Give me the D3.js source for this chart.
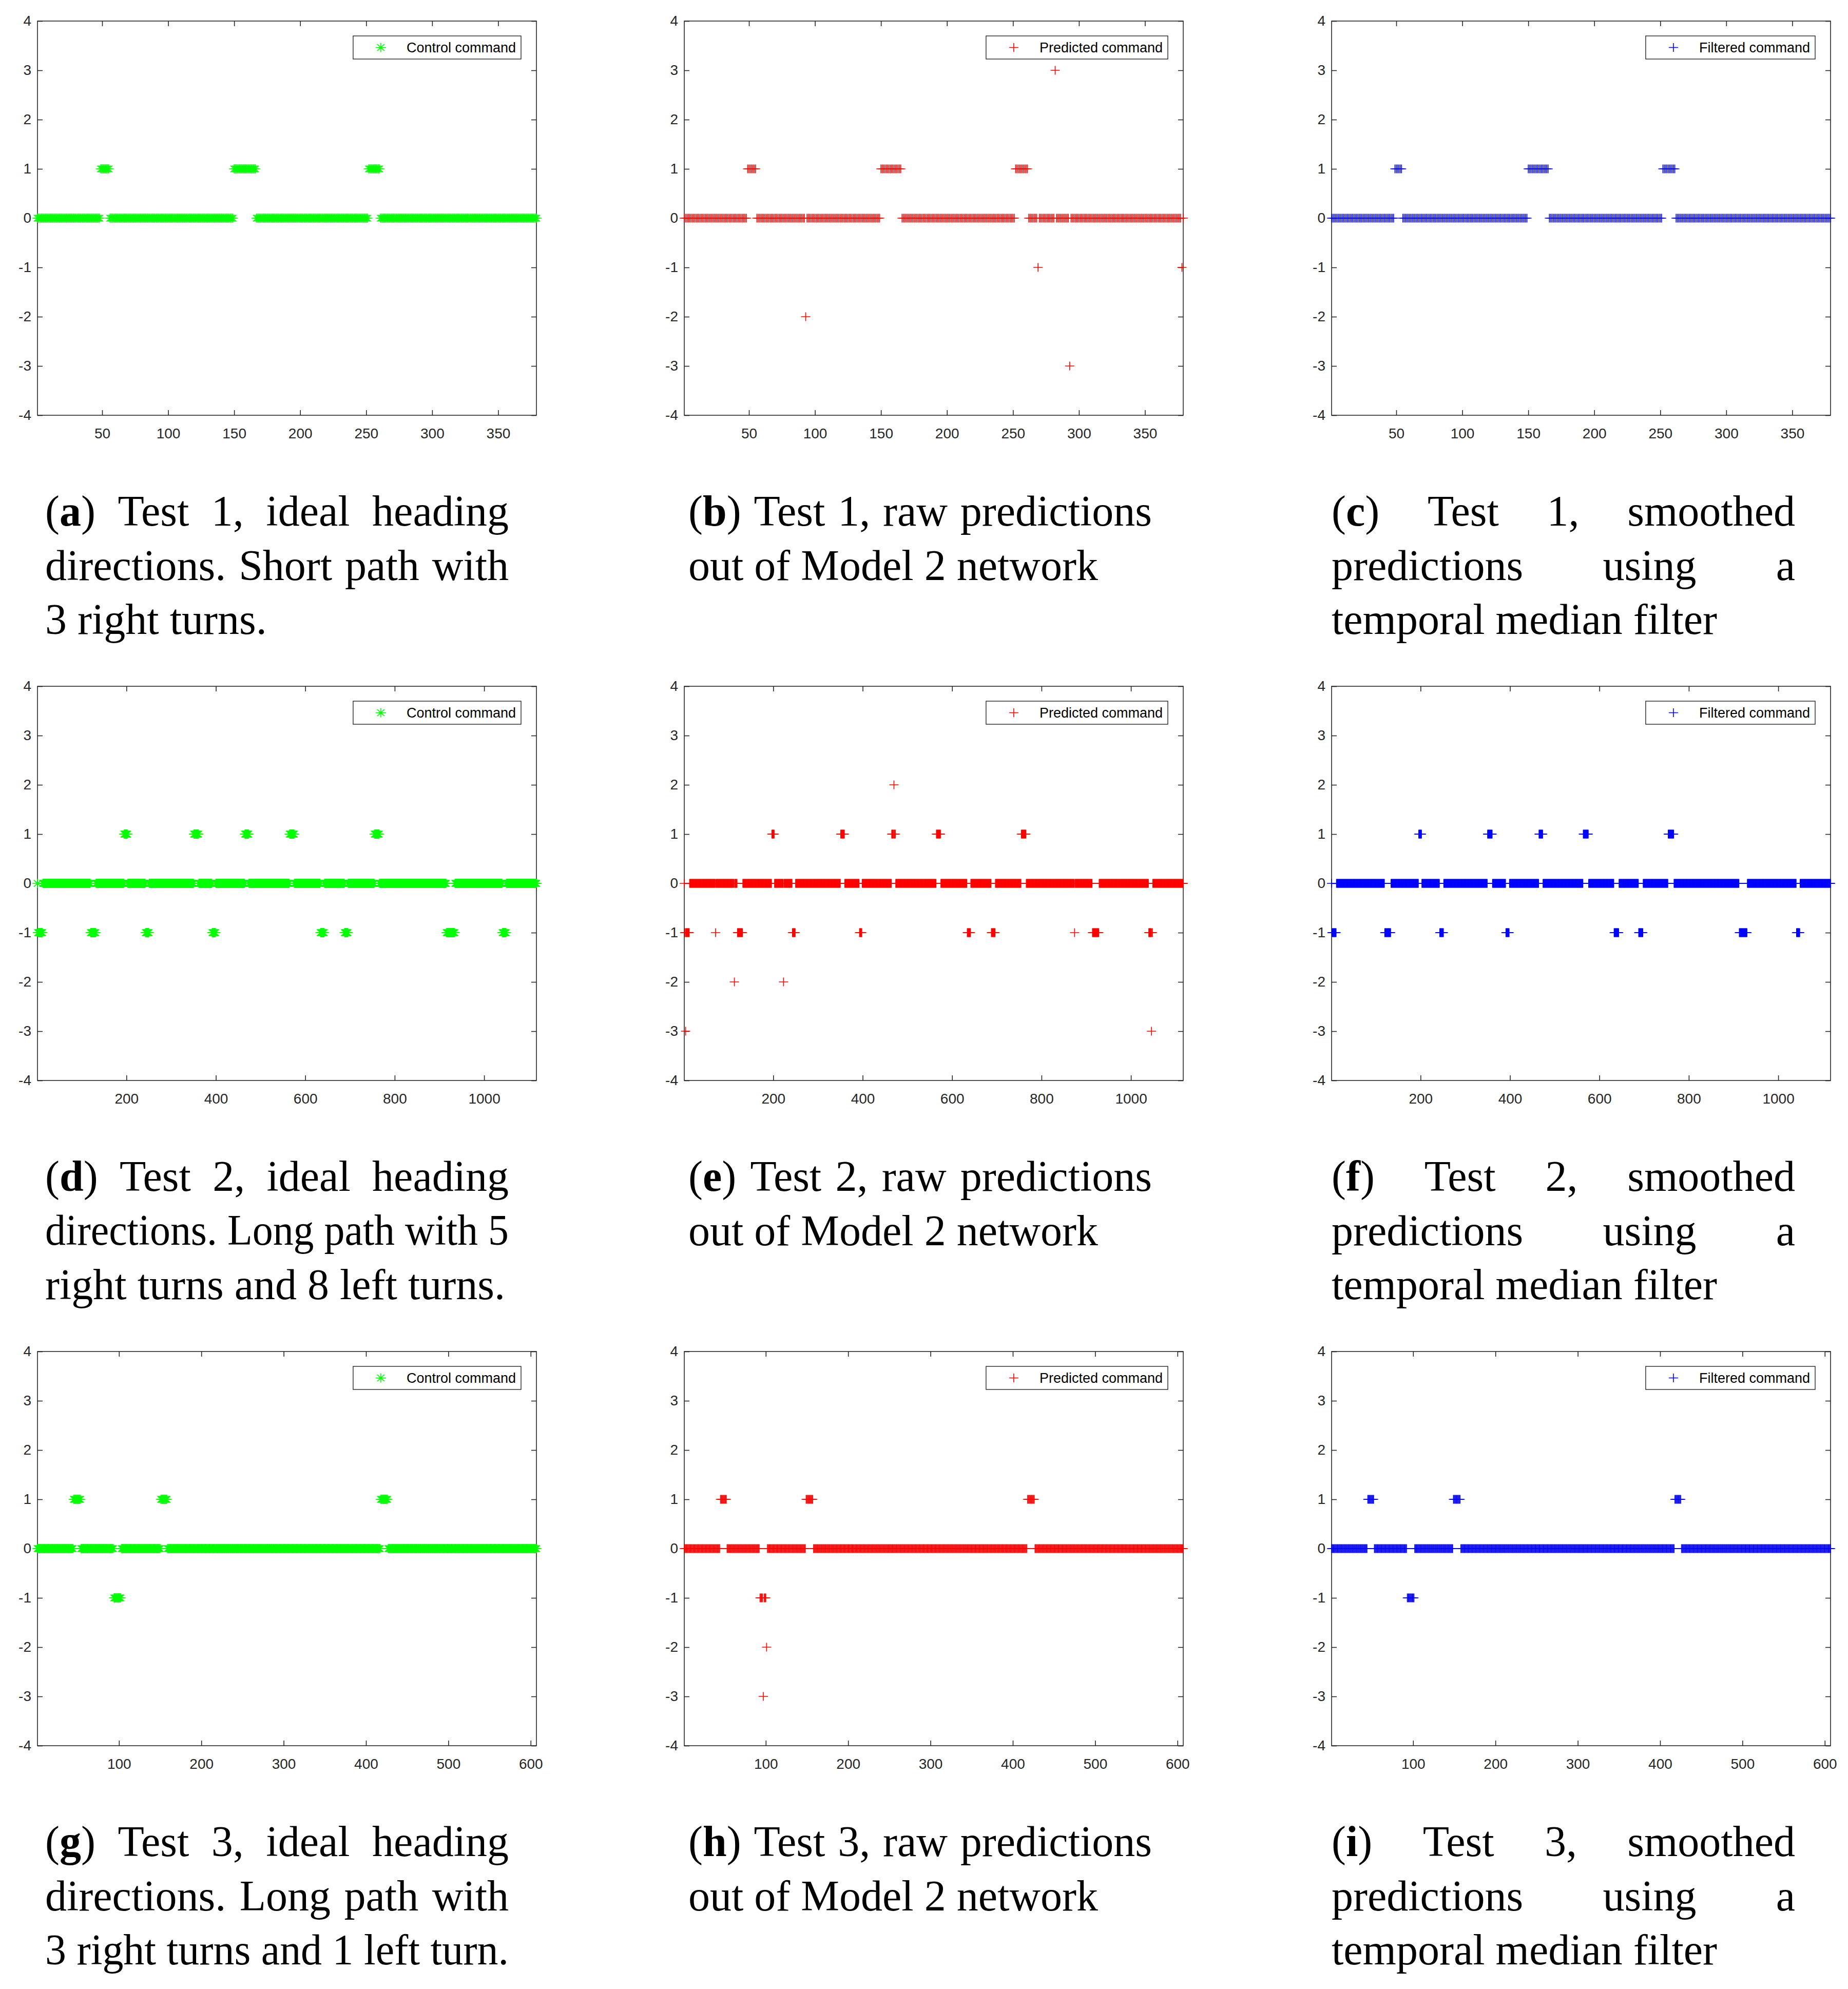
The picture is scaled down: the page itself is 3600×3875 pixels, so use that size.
<!DOCTYPE html>
<html lang="en">
<head>
<meta charset="utf-8">
<title>Heading commands, tests 1-3</title>
<script src="https://cdn.jsdelivr.net/npm/d3@7"></script>
<style>
  body { margin: 0; background: #fff; }
  .tick text { font-family: "Liberation Sans", Arial, Helvetica, sans-serif; font-size: 28px; fill: #262626; }
  .tick line { stroke: #262626; stroke-width: 1.6; }
  .frame { fill: none; stroke: #262626; stroke-width: 1.6; }
  .legendBox { fill: #fff; stroke: #262626; stroke-width: 1.4; }
  .legendText { font-family: "Liberation Sans", Arial, Helvetica, sans-serif; font-size: 27px; fill: #000; }
  .cap { font-family: "Liberation Serif", "Times New Roman", serif; font-size: 84px; fill: #000; }
</style>
</head>
<body>
<script>

// Each series is stored run-length encoded: [first index, last index, value]
var test1Control = [[1,48,0],[49,55,1],[56,149,0],[150,166,1],[167,251,0],[252,260,1],[261,379,0]];
var test1Predicted = [[1,48,0],[49,55,1],[56,92,0],[93,93,-2],[94,149,0],[150,165,1],[166,251,0],[252,261,1],
  [262,268,0],[269,269,-1],[270,281,0],[282,282,3],[283,292,0],[293,293,-3],[294,377,0],[378,378,-1],[379,379,0]];
var test1Filtered = [[1,48,0],[49,54,1],[55,149,0],[150,165,1],[166,251,0],[252,261,1],[262,379,0]];

var test2Control = [[1,1,0],[2,12,-1],[13,119,0],[120,131,-1],[132,194,0],[195,202,1],[203,242,0],[243,250,-1],
  [251,350,0],[351,361,1],[362,391,0],[392,399,-1],[400,464,0],[465,473,1],[474,564,0],[565,575,1],[576,633,0],
  [634,642,-1],[643,687,0],[688,695,-1],[696,754,0],[755,765,1],[766,915,0],[916,934,-1],[935,1040,0],
  [1041,1049,-1],[1050,1117,0]];
var test2Predicted = [[1,1,0],[2,3,-1],[4,4,-3],[5,12,-1],[13,70,0],[71,71,-1],[72,112,0],[113,113,-2],[114,119,0],
  [120,131,-1],[132,196,0],[197,202,1],[203,222,0],[223,223,-2],[224,242,0],[243,249,-1],[250,350,0],[351,359,1],
  [360,392,0],[393,398,-1],[399,464,0],[465,469,1],[470,470,2],[471,473,1],[474,564,0],[565,574,1],[575,633,0],
  [634,641,-1],[642,687,0],[688,696,-1],[697,754,0],[755,765,1],[766,873,0],[874,874,-1],[875,913,0],
  [914,928,-1],[929,1039,0],[1040,1045,-1],[1046,1046,-3],[1047,1048,-1],[1049,1117,0]];
var test2Filtered = [[1,1,0],[2,11,-1],[12,119,0],[120,133,-1],[134,195,0],[196,202,1],[203,242,0],[243,251,-1],
  [252,349,0],[350,360,1],[361,390,0],[391,398,-1],[399,464,0],[465,473,1],[474,563,0],[564,575,1],[576,632,0],
  [633,643,-1],[644,687,0],[688,697,-1],[698,753,0],[754,766,1],[767,912,0],[913,930,-1],[931,1040,0],
  [1041,1048,-1],[1049,1117,0]];

var test3Control = [[1,44,0],[45,53,1],[54,93,0],[94,102,-1],[103,150,0],[151,158,1],[159,417,0],[418,426,1],[427,607,0]];
var test3Predicted = [[1,44,0],[45,52,1],[53,92,0],[93,96,-1],[97,97,-3],[98,100,-1],[101,101,-2],[102,148,0],
  [149,157,1],[158,417,0],[418,426,1],[427,607,0]];
var test3Filtered = [[1,44,0],[45,52,1],[53,92,0],[93,101,-1],[102,148,0],[149,157,1],[158,417,0],[418,425,1],[426,607,0]];

// samples per test and x tick labels
var sampleCounts = [379, 1117, 607];
var xTicks = [[50,100,150,200,250,300,350], [200,400,600,800,1000], [100,200,300,400,500,600]];
var yTicks = [-4,-3,-2,-1,0,1,2,3,4];

var legendLabels = ["Control command", "Predicted command", "Filtered command"];

var captions = [
  [["(a) Test 1, ideal heading", true], ["directions. Short path with", true], ["3 right turns.", false]],
  [["(b) Test 1, raw predictions", true], ["out of Model 2 network", false]],
  [["(c) Test 1, smoothed", true], ["predictions using a", true], ["temporal median filter", false]],
  [["(d) Test 2, ideal heading", true], ["directions. Long path with 5", true], ["right turns and 8 left turns.", false]],
  [["(e) Test 2, raw predictions", true], ["out of Model 2 network", false]],
  [["(f) Test 2, smoothed", true], ["predictions using a", true], ["temporal median filter", false]],
  [["(g) Test 3, ideal heading", true], ["directions. Long path with", true], ["3 right turns and 1 left turn.", true]],
  [["(h) Test 3, raw predictions", true], ["out of Model 2 network", false]],
  [["(i) Test 3, smoothed", true], ["predictions using a", true], ["temporal median filter", false]]
];

var series = [
  [test1Control, test1Predicted, test1Filtered],
  [test2Control, test2Predicted, test2Filtered],
  [test3Control, test3Predicted, test3Filtered]
];

// layout
var w = 3600, h = 3875;
var plotLeft = [73, 1333, 2594];
var plotTop = [41, 1337, 2633];
var plotW = 972, plotH = 768;
var capLeft = [88, 1341, 2594];
var capWidth = 903;
var capFirstBaseline = 1024;
var capLineGap = 105.5;
var rowStep = 1296;
var capFontSize = 84;

var colors = ["#00ff00", "#ff0000", "#0000ff"];
var starPath = "M-10,0H10M0,-9V9M-7,-6.4L7,6.4M-7,6.4L7,-6.4";
var plusPath = "M-9,0H9M0,-8.5V8.5";
var markerPaths = [starPath, plusPath, plusPath];

function expand(runs) {
  var pts = [];
  runs.forEach(function(r) {
    for (var i = r[0]; i <= r[1]; i++) pts.push({ x: i, y: r[2] });
  });
  return pts;
}

var svg = d3.select("body").append("svg")
  .attr("width", w)
  .attr("height", h);

svg.append("rect").attr("width", w).attr("height", h).attr("fill", "#fff");

for (var row = 0; row < 3; row++) {
  for (var col = 0; col < 3; col++) {

    var xScale = d3.scaleLinear()
      .domain([1, sampleCounts[row]])
      .range([0, plotW]);

    var yScale = d3.scaleLinear()
      .domain([-4, 4])
      .range([plotH, 0]);

    var g = svg.append("g")
      .attr("transform", "translate(" + plotLeft[col] + "," + plotTop[row] + ")");

    //axes, ticks pointing inward on all four sides
    var xAxis = d3.axisBottom(xScale).tickValues(xTicks[row]).tickSize(-10).tickSizeOuter(0)
      .tickPadding(25).tickFormat(function(d) { return String(d); });
    var yAxis = d3.axisLeft(yScale).tickValues(yTicks).tickSize(-10).tickSizeOuter(0)
      .tickPadding(12).tickFormat(function(d) { return String(d); });

    g.append("g").attr("transform", "translate(0," + plotH + ")").call(xAxis);
    g.append("g").call(yAxis);
    g.append("g").call(d3.axisTop(xScale).tickValues(xTicks[row]).tickSize(-10).tickSizeOuter(0).tickFormat(""));
    g.append("g").attr("transform", "translate(" + plotW + ",0)")
      .call(d3.axisRight(yScale).tickValues(yTicks).tickSize(-10).tickSizeOuter(0).tickFormat(""));
    g.selectAll(".domain").remove();

    g.append("rect").attr("class", "frame")
      .attr("width", plotW).attr("height", plotH);

    //markers
    g.append("g").selectAll("path")
      .data(expand(series[row][col]))
      .enter().append("path")
      .attr("d", markerPaths[col])
      .attr("transform", function(d) { return "translate(" + xScale(d.x) + "," + yScale(d.y) + ")"; })
      .attr("fill", "none")
      .attr("stroke", colors[col])
      .attr("stroke-width", 1.6);

    //legend
    var lg = g.append("g");
    var box = lg.append("rect").attr("class", "legendBox");
    var lt = lg.append("text").attr("class", "legendText").text(legendLabels[col]);
    var tw = lt.node().getComputedTextLength();
    var boxW = tw + 114, boxH = 45;
    var bx = plotW - 30 - boxW, by = 29;
    box.attr("x", bx).attr("y", by).attr("width", boxW).attr("height", boxH);
    lt.attr("x", bx + 104).attr("y", by + boxH / 2).attr("dy", "0.35em");
    lg.append("path")
      .attr("d", markerPaths[col])
      .attr("transform", "translate(" + (bx + 54) + "," + (by + boxH / 2) + ")")
      .attr("fill", "none")
      .attr("stroke", colors[col])
      .attr("stroke-width", 1.6);

    //caption, justified line by line; a line too long for the column is squeezed a little
    var cap = captions[row * 3 + col];
    cap.forEach(function(line, li) {
      var y = capFirstBaseline + row * rowStep + li * capLineGap;
      var lineG = svg.append("g");
      var words = line[0].split(" ");
      var nodes = words.map(function(word) {
        var t = lineG.append("text").attr("class", "cap").attr("y", y);
        var m = word.match(/^\((\w)\)$/);
        if (m) {
          t.append("tspan").text("(");
          t.append("tspan").attr("font-weight", "bold").text(m[1]);
          t.append("tspan").text(")");
        } else {
          t.text(word);
        }
        return t;
      });
      var widths = nodes.map(function(n) { return n.node().getComputedTextLength(); });
      var total = d3.sum(widths);
      var minGap = capFontSize * 0.25;
      var natural = total + minGap * (words.length - 1);
      var gap = minGap, k = 1;
      if (natural > capWidth) {
        k = capWidth / natural;
      } else if (line[1] && words.length > 1) {
        gap = (capWidth - total) / (words.length - 1);
      }
      var x = 0;
      nodes.forEach(function(n, i) {
        n.attr("x", x);
        x += widths[i] + gap;
      });
      lineG.attr("transform", "translate(" + capLeft[col] + ",0) scale(" + k + ",1)");
    });
  }
}

</script>
</body>
</html>
